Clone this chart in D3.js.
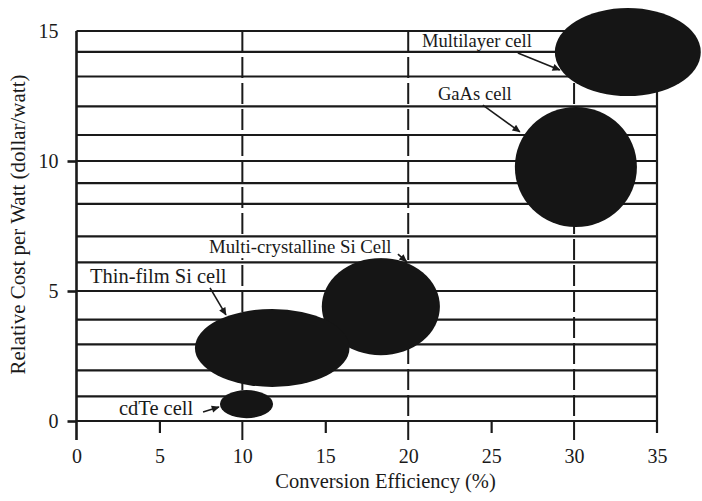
<!DOCTYPE html>
<html>
<head>
<meta charset="utf-8">
<script src="https://cdn.jsdelivr.net/npm/d3@7/dist/d3.min.js"></script>
<style>
  html, body { margin: 0; padding: 0; background: #ffffff; }
  svg { display: block; }
  text { font-family: "Liberation Serif", "Times New Roman", serif; fill: #1a1a1a; }
</style>
</head>
<body>
<div id="chart"></div>
<script>
// ---------------- data ----------------
const efficiencyTicks = [0, 5, 10, 15, 20, 25, 30, 35];
const costTicks = [0, 5, 10, 15];
const gridCosts = [15, 14.2, 13.25, 12.1, 11.0, 10, 9.15, 8.35, 7.1, 6.1, 5, 3.9, 2.95, 1.95, 0.95, 0];
const dashedEfficiencies = [10, 20, 30];
const shortTickEfficiencies = [5, 15, 25];

const cellNames = ["Multilayer cell", "GaAs cell", "Multi-crystalline Si Cell", "Thin-film Si cell", "cdTe cell"];
const efficiency = [33.24, 30.11, 18.35, 11.8, 10.25];      // % (ellipse centre)
const cost = [14.19, 9.77, 4.40, 2.81, 0.65];               // $/W (ellipse centre)
const efficiencySpread = [4.4, 3.68, 3.56, 4.66, 1.6];      // half-width, %
const costSpread = [1.69, 2.31, 1.87, 1.5, 0.54];           // half-height, $/W

const xTitle = "Conversion Efficiency (%)";
const yTitle = "Relative Cost per Watt (dollar/watt)";

// ---------------- layout ----------------
const W = 702, H = 501;
const x = d3.scaleLinear().domain([0, 35]).range([76.5, 657]);
const y = d3.scaleLinear().domain([0, 15]).range([421, 31]);

// annotation placement (data units): label start, arrow from, arrow to
const labelAnchors = [
  {lx: 20.83, ly: 14.38, size: 18.6, ax1: 26.61, ay1: 14.15, ax2: 29.14, ay2: 13.50},
  {lx: 21.79, ly: 12.35, size: 18.6, ax1: 24.50, ay1: 12.15, ax2: 26.73, ay2: 11.12},
  {lx: 7.99,  ly: 6.46,  size: 18.8, ax1: 19.38, ay1: 6.42,  ax2: 19.90, ay2: 6.13, bg: true},
  {lx: 0.81,  ly: 5.31,  size: 20.5, ax1: 8.05,  ay1: 5.12,  ax2: 9.01,  ay2: 4.08},
  {lx: 2.56,  ly: 0.23,  size: 20.5, ax1: 7.63,  ay1: 0.35,  ax2: 8.59,  ay2: 0.54}
];

const ink = "#1a1a1a";

const svg = d3.select("#chart").append("svg")
  .attr("width", W).attr("height", H)
  .attr("viewBox", `0 0 ${W} ${H}`);

svg.append("rect").attr("width", W).attr("height", H).attr("fill", "#ffffff");

svg.append("defs").append("marker")
  .attr("id", "arrow")
  .attr("viewBox", "0 0 10 10")
  .attr("refX", 9).attr("refY", 5)
  .attr("markerUnits", "userSpaceOnUse")
  .attr("markerWidth", 9).attr("markerHeight", 8)
  .attr("orient", "auto")
  .append("path").attr("d", "M0,0.5 L10,5 L0,9.5 Z").attr("fill", ink);

// horizontal grid lines
svg.append("g").selectAll("line").data(gridCosts).join("line")
  .attr("x1", x(0)).attr("x2", x(35))
  .attr("y1", d => y(d)).attr("y2", d => y(d))
  .attr("stroke", ink).attr("stroke-width", 2.2);

// dashed vertical lines
svg.append("g").selectAll("line").data(dashedEfficiencies).join("line")
  .attr("x1", d => x(d)).attr("x2", d => x(d))
  .attr("y1", y(15)).attr("y2", y(0) + 19)
  .attr("stroke", ink).attr("stroke-width", 2)
  .attr("stroke-dasharray", "21,5");

// left frame line and right frame line
svg.append("line").attr("x1", x(0)).attr("x2", x(0))
  .attr("y1", y(15)).attr("y2", y(0) + 19)
  .attr("stroke", ink).attr("stroke-width", 2.6);
svg.append("line").attr("x1", x(35)).attr("x2", x(35))
  .attr("y1", y(15)).attr("y2", y(0) + 12)
  .attr("stroke", ink).attr("stroke-width", 2.2);

// x axis (ticks + labels)
const xAxis = svg.append("g").attr("transform", `translate(0,${y(0)})`)
  .call(d3.axisBottom(x).tickValues(efficiencyTicks).tickSize(12).tickFormat(d3.format("d")));
xAxis.select(".domain").remove();
xAxis.selectAll(".tick line").attr("stroke", ink).attr("stroke-width", 2.2)
  .attr("opacity", d => shortTickEfficiencies.includes(d) ? 1 : 0);
xAxis.selectAll(".tick text").attr("y", 42).attr("dy", null)
  .style("font-size", "20px").style("fill", ink);

// y axis (ticks + labels)
const yAxis = svg.append("g").attr("transform", `translate(${x(0)},0)`)
  .call(d3.axisLeft(y).tickValues(costTicks).tickSize(9).tickPadding(9).tickFormat(d3.format("d")));
yAxis.select(".domain").remove();
yAxis.selectAll(".tick line").attr("stroke", ink).attr("stroke-width", 2.6)
  .attr("opacity", d => d === 15 ? 0 : 1);
yAxis.selectAll(".tick text").attr("dy", "0.34em")
  .style("font-size", "20px").style("fill", ink);

// ellipses
const cells = cellNames.map((name, i) => ({
  name, eff: efficiency[i], cost: cost[i], rE: efficiencySpread[i], rC: costSpread[i], a: labelAnchors[i]
}));

svg.append("g").selectAll("ellipse").data(cells).join("ellipse")
  .attr("cx", d => x(d.eff)).attr("cy", d => y(d.cost))
  .attr("rx", d => x(d.rE) - x(0)).attr("ry", d => y(0) - y(d.rC))
  .attr("fill", "#151515");

// labels
const lab = svg.append("g");
cells.forEach(d => {
  const t = lab.append("text")
    .attr("x", x(d.a.lx)).attr("y", y(d.a.ly))
    .style("font-size", d.a.size + "px")
    .text(d.name);
  if (d.a.bg) {
    const bb = t.node().getBBox();
    lab.insert("rect", "text")
      .attr("x", bb.x - 2).attr("width", bb.width + 4)
      .attr("y", y(d.a.ly) - d.a.size * 0.78).attr("height", d.a.size * 1.05)
      .attr("fill", "#ffffff");
  }
  lab.append("line")
    .attr("x1", x(d.a.ax1)).attr("y1", y(d.a.ay1))
    .attr("x2", x(d.a.ax2)).attr("y2", y(d.a.ay2))
    .attr("stroke", ink).attr("stroke-width", 1.6)
    .attr("marker-end", "url(#arrow)");
});

// axis titles
svg.append("text")
  .attr("x", 385.5).attr("y", 488)
  .attr("text-anchor", "middle")
  .style("font-size", "20.5px")
  .text(xTitle);

svg.append("text")
  .attr("transform", `translate(25,224.5) rotate(-90)`)
  .attr("text-anchor", "middle")
  .style("font-size", "21px")
  .text(yTitle);
</script>
</body>
</html>
